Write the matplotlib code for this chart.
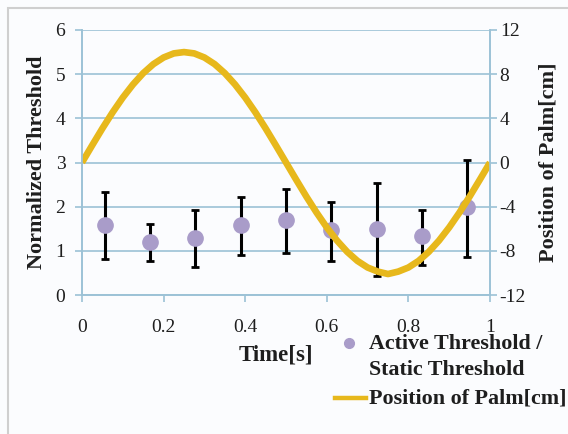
import numpy as np
import matplotlib
matplotlib.use('Agg')
import matplotlib.pyplot as plt
from matplotlib.patches import Rectangle
from matplotlib.lines import Line2D

t_pts = [0.056, 0.167, 0.278, 0.389, 0.5, 0.611, 0.722, 0.833, 0.944]
ratio = [1.58, 1.19, 1.29, 1.58, 1.69, 1.48, 1.50, 1.33, 2.00]
err_hi = [2.33, 1.60, 1.93, 2.23, 2.41, 2.10, 2.54, 1.93, 3.06]
err_lo = [0.81, 0.77, 0.64, 0.90, 0.96, 0.77, 0.44, 0.68, 0.86]

# palm position curve [cm], read every 0.025 s
t_palm = [i * 0.025 for i in range(41)]
palm = [0.0, 1.56, 3.09, 4.54, 5.88, 7.07, 8.09, 8.91, 9.51, 9.88, 10.0,
        9.88, 9.51, 8.91, 8.09, 7.07, 5.88, 4.54, 3.09, 1.56, 0.0,
        -1.56, -3.09, -4.54, -5.88, -7.07, -8.09, -8.91, -9.51, -9.88, -10.1,
        -9.88, -9.51, -8.91, -8.09, -7.07, -5.88, -4.54, -3.09, -1.56, 0.0]

legend_labels = ['Active Threshold /', 'Static Threshold', 'Position of Palm[cm]']

BG = '#fbfcfe'
GRID = '#9cc2d6'
YEL = '#e7b81c'
PURP = '#a99cc9'
TXT = '#1e1e1e'
FONT = 'Liberation Serif'

plt.rcParams['font.family'] = FONT
plt.rcParams['axes.unicode_minus'] = False

fig = plt.figure(figsize=(5.68, 4.34), dpi=100, facecolor=BG)
fig.patches.append(Rectangle((8 / 568, -0.1), 1.2, 1 - 8 / 434 + 0.1, transform=fig.transFigure,
                             fill=False, edgecolor='#cfcfcf', lw=1.5, zorder=0))

ax = fig.add_axes([82 / 568, 1 - 295 / 434, 408 / 568, 265 / 434])
ax.set_facecolor(BG)
ax2 = ax.twinx()

yerr = [np.array(ratio) - np.array(err_lo), np.array(err_hi) - np.array(ratio)]
ax.errorbar(t_pts, ratio, yerr=yerr, fmt='o', color=PURP, ms=11, mec=PURP,
            ecolor='black', elinewidth=2.2, capsize=3, capthick=2, zorder=3)
ax2.plot(t_palm, palm, color=YEL, lw=4.8, solid_capstyle='butt')

ax.set_xlim(0, 1)
ax.set_ylim(0, 6)
ax2.set_ylim(-12, 12)
ax.set_xticks([0, 0.2, 0.4, 0.6, 0.8, 1])
ax.set_xticklabels(['0', '0.2', '0.4', '0.6', '0.8', '1'])
ax.set_yticks(range(7))
ax2.set_yticks(range(-12, 13, 4))

ax.grid(axis='y', color=GRID, lw=1.2)
ax.set_axisbelow(True)
for a in (ax, ax2):
    for s in a.spines.values():
        s.set_color(GRID)
        s.set_linewidth(1.2)
    a.spines['top'].set_visible(False)
ax.tick_params(axis='both', colors=GRID, labelcolor=TXT, labelsize=14,
               length=5, width=1.2)
ax.tick_params(axis='x', pad=12)
ax.tick_params(axis='y', pad=7)
ax2.tick_params(axis='y', colors=GRID, labelcolor=TXT, labelsize=14,
                length=5, width=1.2, pad=2)

ax.set_ylabel('Normalized Threshold', fontsize=16, fontweight='bold', labelpad=6, color=TXT)
ax2.set_ylabel('Position of Palm[cm]', fontsize=16, fontweight='bold', labelpad=9, color=TXT)
fig.text(276 / 568, 1 - 355 / 434, 'Time[s]', fontsize=16.5, fontweight='bold',
         ha='center', va='center', color=TXT)

# legend, laid out like the original (marker beside first line)
fx = lambda px: px / 568
fy = lambda py: 1 - py / 434
fig.add_artist(Line2D([fx(349)], [fy(343)], marker='o', ls='none', color=PURP, ms=7,
                      transform=fig.transFigure))
fig.add_artist(Line2D([fx(335), fx(366)], [fy(398), fy(398)], color=YEL, lw=3.2,
                      transform=fig.transFigure))
for lab, py in zip(legend_labels, [344, 370, 398]):
    fig.text(fx(369), fy(py), lab, fontsize=15.8, fontweight='bold', ha='left',
             va='center', color=TXT)

fig.savefig('out.png', dpi=100, facecolor=BG)
